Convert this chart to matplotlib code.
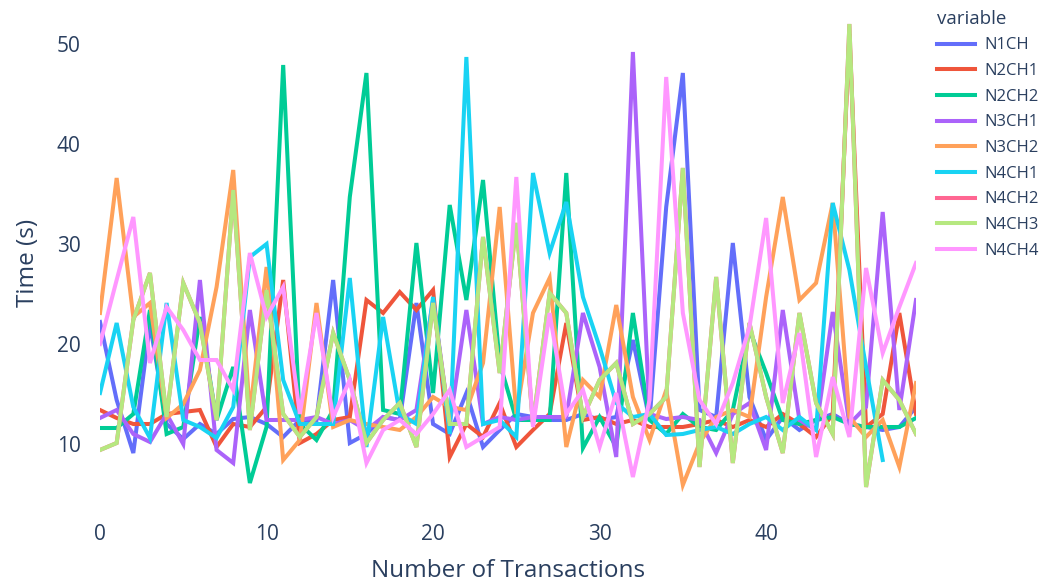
import matplotlib
matplotlib.use("Agg")
import matplotlib.pyplot as plt
import numpy as np

plt.rcParams['font.family'] = ['Open Sans', 'DejaVu Sans']

transactions = np.arange(50)

n1ch = [22.2, 14.4, 9.1, 22.0, 12.0, 10.5, 12.0, 11.0, 12.5, 12.7,
        12.0, 10.7, 12.4, 12.4, 26.4, 10.1, 11.0, 12.7, 12.4, 24.1,
        12.0, 11.0, 15.1, 9.7, 11.4, 13.0, 12.7, 12.4, 12.4, 13.0,
        12.4, 12.7, 20.4, 12.4, 33.7, 47.1, 13.4, 12.7, 30.1, 14.7,
        10.4, 12.7, 11.4, 12.4, 13.0, 12.0, 11.7, 11.4, 11.7, 13.7]
n2ch1 = [13.4, 12.6, 12.0, 12.0, 13.0, 13.2, 13.4, 9.7, 12.0, 11.7,
         13.7, 26.4, 10.1, 11.0, 12.4, 12.7, 24.4, 23.1, 25.2, 23.4,
         25.4, 8.7, 12.0, 10.7, 14.1, 9.7, 11.4, 13.0, 22.1, 12.4,
         12.7, 12.0, 12.4, 11.7, 11.7, 11.7, 12.0, 12.4, 11.7, 12.4,
         11.7, 13.0, 12.0, 10.7, 13.0, 51.0, 11.7, 13.0, 23.1, 13.0]
n2ch2 = [11.6, 11.6, 13.0, 23.4, 11.0, 11.7, 22.7, 12.4, 17.7, 6.1,
         11.7, 47.9, 12.0, 10.4, 13.4, 34.7, 47.1, 13.4, 13.0, 30.1,
         15.1, 33.9, 24.4, 36.4, 18.1, 12.4, 12.4, 12.4, 37.1, 9.6,
         12.7, 9.7, 23.1, 12.4, 11.0, 13.0, 11.7, 11.4, 13.4, 21.4,
         17.1, 12.4, 12.0, 12.4, 12.7, 12.0, 11.7, 11.7, 11.7, 12.6]
n3ch1 = [12.6, 13.4, 11.0, 10.2, 13.0, 10.0, 26.4, 9.4, 8.1, 23.4,
         12.4, 12.4, 12.4, 12.7, 12.0, 12.4, 11.4, 12.7, 12.4, 13.4,
         24.4, 12.0, 23.4, 12.0, 12.7, 12.4, 12.7, 12.7, 12.7, 23.1,
         17.7, 8.7, 49.2, 13.0, 12.5, 12.7, 12.4, 9.1, 13.0, 14.1,
         9.4, 23.4, 12.4, 11.4, 23.2, 12.0, 13.7, 33.2, 13.4, 24.4]
n3ch2 = [23.1, 36.6, 22.7, 24.1, 12.6, 14.0, 17.4, 25.7, 37.4, 13.0,
         27.7, 8.4, 10.4, 24.1, 11.7, 12.4, 12.0, 11.7, 11.4, 12.7,
         14.7, 13.7, 13.4, 18.1, 33.7, 13.0, 23.1, 26.6, 9.7, 16.4,
         14.7, 23.9, 14.7, 10.4, 15.4, 5.9, 10.1, 12.7, 13.4, 12.7,
         24.7, 34.7, 24.4, 26.1, 34.1, 12.7, 10.7, 12.4, 7.7, 16.1]
n4ch1 = [15.1, 22.1, 13.7, 10.6, 24.1, 12.4, 11.7, 10.6, 13.7, 28.7,
         30.0, 16.4, 12.0, 12.0, 12.0, 26.6, 9.7, 22.7, 13.0, 12.0,
         24.7, 11.0, 48.7, 12.0, 12.4, 10.7, 37.1, 29.1, 34.2, 24.7,
         19.7, 14.1, 12.7, 13.0, 10.9, 11.0, 11.4, 11.7, 11.0, 12.0,
         12.7, 11.4, 12.7, 11.4, 34.1, 27.4, 17.7, 8.4, np.nan, np.nan]
# N4CH2 is hidden under N4CH3 in the reference (same readings)
n4ch2 = [9.4, 10.1, 22.4, 27.1, 12.7, 26.1, 22.1, 12.4, 35.4, 11.4,
         25.4, 13.0, 10.7, 12.7, 21.1, 16.4, 10.1, 12.4, 14.1, 9.7,
         24.1, 12.0, 12.0, 30.7, 17.1, 32.1, 12.0, 25.1, 23.1, 12.7,
         16.4, 18.1, 12.0, 13.0, 14.7, 37.6, 7.7, 26.7, 8.1, 22.1,
         14.7, 9.1, 23.1, 14.1, 11.0, 52.0, 5.7, 16.4, 14.4, 11.0]
n4ch3 = [9.4, 10.1, 22.4, 27.1, 12.7, 26.1, 22.1, 12.4, 35.4, 11.4,
         25.4, 13.0, 10.7, 12.7, 21.1, 16.4, 10.1, 12.4, 14.1, 9.7,
         24.1, 12.0, 12.0, 30.7, 17.1, 32.1, 12.0, 25.1, 23.1, 12.7,
         16.4, 18.1, 12.0, 13.0, 14.7, 37.6, 7.7, 26.7, 8.1, 22.1,
         14.7, 9.1, 23.1, 14.1, 11.0, 52.0, 5.7, 16.4, 14.4, 11.0]
n4ch4 = [20.0, 26.4, 32.7, 18.1, 23.7, 21.4, 18.4, 18.4, 15.4, 29.1,
         22.7, 25.7, 13.0, 23.1, 12.7, 16.4, 8.1, 11.4, 12.4, 11.0,
         13.0, 15.4, 9.7, 10.7, 11.7, 36.7, 11.7, 23.1, 13.0, 15.4,
         9.7, 15.1, 6.7, 14.4, 46.7, 23.1, 14.4, 12.0, 16.1, 21.7,
         32.6, 14.1, 21.1, 8.7, 16.7, 10.7, 27.6, 19.1, 23.7, 28.1]

series_names = ["N1CH", "N2CH1", "N2CH2", "N3CH1", "N3CH2",
                "N4CH1", "N4CH2", "N4CH3", "N4CH4"]
series_values = [n1ch, n2ch1, n2ch2, n3ch1, n3ch2, n4ch1, n4ch2, n4ch3, n4ch4]
colors = ["#636EFA", "#EF553B", "#00CC96", "#AB63FA", "#FFA15A",
          "#19D3F3", "#FF6692", "#B6E880", "#FF97FF"]

text_color = "#2a3f5f"

W, H = 1045, 586
fig = plt.figure(figsize=(W / 100, H / 100), dpi=100)
ax = fig.add_axes([100 / W, 1 - 505 / H, 816 / W, 485 / H])

for name, vals, c in zip(series_names, series_values, colors):
    ax.plot(transactions, vals, color=c, linewidth=2.9, label=name,
            solid_joinstyle='miter')

ax.set_xlim(0, 49)
ax.set_ylim(3.9, 52.4)
ax.set_xticks([0, 10, 20, 30, 40])
ax.set_yticks([10, 20, 30, 40, 50])
for s in ax.spines.values():
    s.set_visible(False)
ax.tick_params(length=0, labelsize=15, colors=text_color)
ax.tick_params(axis='y', pad=14)
ax.tick_params(axis='x', pad=14)
ax.set_xlabel("Number of Transactions", fontsize=17.5, color=text_color,
              labelpad=10)
ax.set_ylabel("Time (s)", fontsize=17.5, color=text_color, labelpad=12)

leg = ax.legend(loc='upper left', bbox_to_anchor=(930 / W, 1 - 3 / H),
                bbox_transform=fig.transFigure, frameon=False,
                title="variable", fontsize=12, title_fontsize=13.5,
                handlelength=2.3, labelspacing=0.58, handletextpad=0.55,
                alignment='left', borderaxespad=0)
for t in leg.get_texts():
    t.set_color(text_color)
leg.get_title().set_color(text_color)

fig.savefig("out.png", dpi=100)
